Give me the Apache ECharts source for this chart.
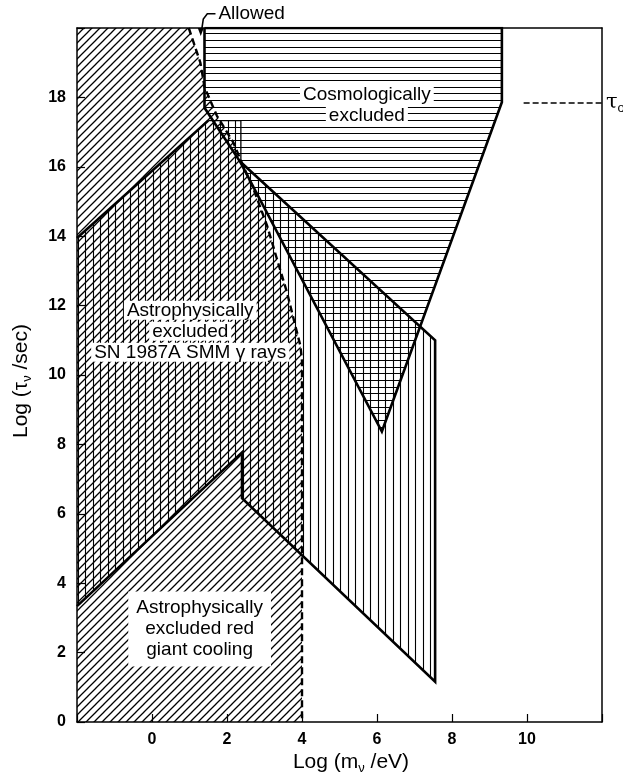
<!DOCTYPE html>
<html><head><meta charset="utf-8">
<script src="https://cdn.jsdelivr.net/npm/echarts/dist/echarts.min.js"></script>
<style>html,body{margin:0;padding:0;background:#fff}#c{width:623px;height:778px}</style>
</head><body><div id="c"></div>
<script>
// ---------- data ----------
const xTickLabels = [0, 2, 4, 6, 8, 10];
const yTickLabels = [0, 2, 4, 6, 8, 10, 12, 14, 16, 18];

// Cosmologically excluded region (horizontal hatch)
const cosmoX = [1.4, 9.33, 9.33, 6.13, 2.36, 1.4];
const cosmoY = [20, 20, 17.86, 8.37, 16.13, 17.7];

// SN 1987A SMM gamma-ray region (vertical hatch)
const snX = [-2, 2.4, 2.4, 7.55, 7.55, 2.37, 2.37, 1.5, -2];
const snY = [3.34, 7.77, 6.45, 1.16, 11.0, 16.13, 17.33, 17.33, 13.95];

// dashed "allowed" boundary (diagonal hatch lies left of it)
const curveX = [0.98, 1.29, 1.4, 1.73, 2.17, 2.44, 2.71, 3.07, 3.33, 3.6, 3.78, 3.96, 4.0, 4.0];
const curveY = [20, 19.0, 18.3, 17.47, 16.7, 16.0, 15.35, 14.3, 13.35, 12.38, 11.6, 10.83, 10.4, 0];

// tau_0 reference
const tau0Y = 17.84;
const tau0X = [9.91, 12];

// annotations
const notes = [
  {x: 5.73, y: 17.76, lines: ['Cosmologically', 'excluded'], block: false},
  {x: 1.02, y: 11.26, lines: ['Astrophysically', 'excluded', 'SN 1987A SMM γ rays'], block: false},
  {x: 1.27, y: 2.68, lines: ['Astrophysically', 'excluded red', 'giant cooling'], block: true}
];
const allowedText = {x: 1.77, y: 20.41, text: 'Allowed'};
const allowedLeaderX = [1.693, 1.475, 1.368, 1.328];
const allowedLeaderY = [20.41, 20.41, 20.26, 19.97];
const allowedArrowX = [1.301, 1.22, 1.38];
const allowedArrowY = [19.77, 20.0, 20.0];

// ---------- styles ----------
const FONT = '"Liberation Sans", Arial, Helvetica, sans-serif';
function makePattern(kind) {
  const c = document.createElement('canvas');
  const g = c.getContext('2d');
  g.strokeStyle = '#000';
  if (kind === 'diag') {
    c.width = 8; c.height = 8; g.lineWidth = 1.3; g.beginPath();
    for (const o of [-8, 0, 8]) { g.moveTo(o - 1, 9); g.lineTo(o + 9, -1); }
    g.stroke();
  } else if (kind === 'vert') {
    c.width = 15; c.height = 4; g.lineWidth = 1.1; g.beginPath();
    g.moveTo(3.5, 0); g.lineTo(3.5, 4); g.moveTo(10.5, 0); g.lineTo(10.5, 4); g.stroke();
  } else {
    c.width = 4; c.height = 20; g.lineWidth = 1.1; g.beginPath();
    g.moveTo(0, 0.5); g.lineTo(4, 0.5); g.moveTo(0, 7.5); g.lineTo(4, 7.5); g.moveTo(0, 13.5); g.lineTo(4, 13.5); g.stroke();
  }
  return {image: c, repeat: 'repeat'};
}

function zip(xs, ys) { return xs.map((x, i) => [x, ys[i]]); }

function polySeries(name, pts, fill, z) {
  return {
    type: 'custom', name, z, silent: true, clip: true,
    data: [[pts[0][0], pts[0][1]]],
    renderItem: (params, api) => ({
      type: 'polygon',
      shape: {points: pts.map(p => api.coord(p))},
      style: {fill: fill, stroke: null}
    })
  };
}
function lineSeries(name, pts, width, z, dash) {
  return {
    type: 'line', name, z, silent: true, symbol: 'none', data: pts,
    lineStyle: {color: '#000', width, type: dash || 'solid', cap: 'butt', join: 'miter'},
    animation: false
  };
}

const diagPoly = [[-2, 20]].concat(zip(curveX, curveY)).concat([[-2, 0]]);
const snPts = zip(snX, snY);
const cosmoPts = zip(cosmoX, cosmoY);

const chart = echarts.init(document.getElementById('c'), null, {renderer: 'canvas'});

const axisCommon = {
  type: 'value',
  axisLine: {show: true, onZero: false, lineStyle: {color: '#000', width: 1.5}},
  splitLine: {show: false}
};

chart.setOption({
  animation: false,
  backgroundColor: '#fff',
  grid: {left: 77, right: 21, top: 28, bottom: 56},
  xAxis: [
    Object.assign({}, axisCommon, {
      min: -2, max: 12, interval: 2,
      axisTick: {show: true, inside: true, length: 8, lineStyle: {color: '#000', width: 1.2}},
      axisLabel: {color: '#000', fontSize: 16, fontWeight: 'bold', fontFamily: FONT, margin: 10,
        formatter: v => xTickLabels.includes(v) ? String(v) : ''}
    }),
    Object.assign({}, axisCommon, {position: 'top', min: -2, max: 12, interval: 2,
      axisTick: {show: false}, axisLabel: {show: false}})
  ],
  yAxis: [
    Object.assign({}, axisCommon, {
      min: 0, max: 20, interval: 2,
      axisTick: {show: true, inside: true, length: 8, lineStyle: {color: '#000', width: 1.2}},
      axisLabel: {color: '#000', fontSize: 16, fontWeight: 'bold', fontFamily: FONT, margin: 11,
        formatter: v => yTickLabels.includes(v) ? String(v) : ''}
    }),
    Object.assign({}, axisCommon, {position: 'right', min: 0, max: 20, interval: 2,
      axisTick: {show: false}, axisLabel: {show: false}})
  ],
  series: [
    polySeries('diag', diagPoly, makePattern('diag'), 1),
    polySeries('sn', snPts, makePattern('vert'), 2),
    polySeries('cosmo', cosmoPts, makePattern('horiz'), 3),
    // outlines
    lineSeries('sn-top', [snPts[8], snPts[7]], 2.6, 5),
    lineSeries('sn-box', [snPts[7], snPts[6], snPts[5]], 1.3, 5),
    lineSeries('sn-main', [snPts[5], snPts[4], snPts[3], snPts[2], snPts[1], snPts[0]], 2.6, 5),
    lineSeries('cosmo-edge', cosmoPts.concat([cosmoPts[0]]), 2.6, 6),
    lineSeries('allowed-edge', zip(curveX, curveY), 2.4, 6, [7, 4]),
    lineSeries('tau0', tau0X.map(x => [x, tau0Y]), 1.5, 6, [6, 3]),
    {
      type: 'custom', name: 'notes', z: 10, silent: true, clip: false,
      data: notes.map(n => [n.x, n.y]),
      renderItem: (params, api) => {
        const n = notes[params.dataIndex];
        const p = api.coord([n.x, n.y]);
        const text = n.block ? n.lines.join('\n') : n.lines.map(l => '{a|' + l + '}').join('\n');
        return {
          type: 'text', x: p[0], y: p[1],
          style: {
            text, align: 'center', verticalAlign: 'middle', fill: '#000',
            font: '19px ' + FONT, lineHeight: 21,
            backgroundColor: n.block ? '#fff' : null, padding: n.block ? [6, 8, 6, 8] : 0,
            rich: {a: {fontSize: 19, fontFamily: FONT, lineHeight: 21, backgroundColor: '#fff', padding: [0, 3, 0, 3], fill: '#000'}}
          }
        };
      }
    },
    {
      type: 'custom', name: 'allowed', z: 10, silent: true, clip: false,
      data: [[allowedText.x, allowedText.y]],
      renderItem: (params, api) => {
        const t = api.coord([allowedText.x, allowedText.y]);
        const leader = zip(allowedLeaderX, allowedLeaderY).map(p => api.coord(p));
        const arrow = zip(allowedArrowX, allowedArrowY).map(p => api.coord(p));
        const tau = api.coord([tau0X[1], tau0Y]);
        return {type: 'group', children: [
          {type: 'text', x: t[0], y: t[1], style: {text: allowedText.text, align: 'left', verticalAlign: 'middle', font: '19px ' + FONT, fill: '#000'}},
          {type: 'polyline', shape: {points: leader}, style: {stroke: '#000', lineWidth: 1.6, fill: null}},
          {type: 'polygon', shape: {points: arrow}, style: {fill: '#000'}},
          {type: 'text', x: tau[0] + 4, y: tau[1], style: {text: '{t|τ}{s|o}', align: 'left', verticalAlign: 'middle',
            rich: {t: {fontSize: 21, fontFamily: 'DejaVu Serif, serif', fill: '#000'}, s: {fontSize: 13, fontFamily: FONT, padding: [10, 0, 0, 0], fill: '#000'}}}}
        ]};
      }
    }
  ],
  graphic: [
    {type: 'text', x: 351, y: 762, silent: true,
      style: {text: '{m|Log (m}{s|ν}{m| /eV)}', align: 'center', verticalAlign: 'middle',
        rich: {m: {fontSize: 21, fontFamily: FONT, fill: '#000'}, s: {fontSize: 13, fontFamily: FONT, padding: [12, 0, 0, 0], fill: '#000'}}}},
    {type: 'text', x: 21, y: 381, rotation: Math.PI / 2, silent: true,
      style: {text: '{m|Log (τ}{s|ν}{m| /sec)}', align: 'center', verticalAlign: 'middle',
        rich: {m: {fontSize: 21, fontFamily: FONT, fill: '#000'}, s: {fontSize: 13, fontFamily: FONT, padding: [12, 0, 0, 0], fill: '#000'}}}}
  ]
});
</script>
</body></html>
